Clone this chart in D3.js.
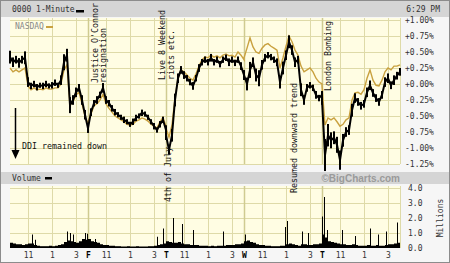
<!DOCTYPE html>
<html>
<head>
<meta charset="utf-8">
<script src="https://cdn.jsdelivr.net/npm/d3@7"></script>
<style>
  body { margin: 0; background: #ffffff; }
</style>
</head>
<body>
<div id="vis"></div>
<script>
//frame
const FRAME_WIDTH = 450;
const FRAME_HEIGHT = 263;
const PLOT = {left: 10, right: 400, top: 18, bottom: 164};
const VOL = {top: 186, bottom: 248};
const MONO = "'DejaVu Sans Mono', 'Liberation Mono', monospace";

//day = 390 trading minutes (9:30 - 16:00), points every 15 minutes
const DAY_MINUTES = 390;
const STEP = 15;

//x axis ticks (minutes since first open) and their labels
const X_TICKS = [90, 210, 330, 390, 480, 600, 720, 780, 870, 990, 1110, 1170, 1260, 1380, 1500, 1560, 1650, 1770, 1890];
const X_LABELS = ["11", "1", "3", "F", "11", "1", "3", "T", "11", "1", "3", "W", "11", "1", "3", "T", "11", "1", "3"];
const DAY_STARTS = [390, 780, 1170, 1560];

//percent change ticks
const PCT_TICKS = [1.00, 0.75, 0.50, 0.25, 0.00, -0.25, -0.50, -0.75, -1.00, -1.25];
//volume ticks (millions)
const VOL_TICKS = [0, 1, 2, 3, 4];

//DDI % change, 27 points per day (Thu, Fri, Tue, Wed, Thu)
const DDI_PCT = [
  0.42, 0.34, 0.38, 0.33, 0.38, 0.41, 0.03, -0.03, 0.00, -0.05, -0.02, -0.03, 0.00, -0.03, -0.02, 0.02, -0.02, 0.06, 0.34, 0.45, -0.33, -0.25, -0.13, -0.06, -0.25, -0.48, -0.69,
  -0.69, -0.44, -0.30, -0.25, -0.17, -0.06, -0.25, -0.30, -0.38, -0.44, -0.48, -0.52, -0.56, -0.59, -0.63, -0.59, -0.53, -0.50, -0.45, -0.47, -0.52, -0.59, -0.66, -0.72, -0.63, -0.56, -0.72,
  -0.80, -1.03, -0.80, -0.25, 0.09, 0.22, 0.14, 0.09, 0.03, -0.03, 0.09, 0.25, 0.34, 0.38, 0.34, 0.41, 0.34, 0.38, 0.31, 0.38, 0.41, 0.34, 0.38, 0.33, 0.38, 0.28, 0.14,
  0.14, 0.00, 0.22, 0.34, 0.14, 0.09, 0.30, 0.41, 0.45, 0.42, 0.38, 0.34, 0.03, 0.25, 0.45, 0.66, 0.53, 0.34, 0.38, -0.09, -0.25, -0.06, -0.02, -0.06, -0.17, -0.22, -0.17,
  -0.25, -1.11, -0.80, -0.88, -0.84, -0.95, -1.19, -0.88, -0.75, -0.72, -0.41, -0.22, -0.28, -0.34, -0.31, -0.13, -0.02, -0.14, -0.22, -0.28, -0.17, 0.03, 0.09, -0.02, 0.06, 0.13, 0.19
];

//DDI high-low spread within each 15 minutes (% points)
const DDI_RANGE = [
  0.20, 0.15, 0.12, 0.15, 0.12, 0.20, 0.15, 0.10, 0.10, 0.10, 0.08, 0.10, 0.10, 0.08, 0.10, 0.10, 0.08, 0.15, 0.25, 0.20, 0.25, 0.15, 0.15, 0.12, 0.15, 0.15, 0.10,
  0.15, 0.12, 0.10, 0.12, 0.10, 0.15, 0.12, 0.10, 0.10, 0.10, 0.08, 0.08, 0.10, 0.08, 0.08, 0.10, 0.10, 0.08, 0.10, 0.08, 0.08, 0.08, 0.10, 0.08, 0.10, 0.10, 0.15,
  0.15, 0.15, 0.20, 0.20, 0.15, 0.12, 0.12, 0.10, 0.10, 0.12, 0.10, 0.12, 0.10, 0.10, 0.10, 0.12, 0.10, 0.10, 0.10, 0.10, 0.10, 0.12, 0.10, 0.10, 0.10, 0.12, 0.15,
  0.15, 0.20, 0.25, 0.15, 0.20, 0.25, 0.15, 0.12, 0.10, 0.10, 0.10, 0.12, 0.20, 0.20, 0.15, 0.20, 0.15, 0.15, 0.12, 0.20, 0.15, 0.12, 0.10, 0.10, 0.12, 0.10, 0.12,
  0.15, 0.50, 0.35, 0.25, 0.20, 0.25, 0.30, 0.20, 0.15, 0.15, 0.20, 0.15, 0.12, 0.12, 0.12, 0.15, 0.15, 0.12, 0.12, 0.12, 0.12, 0.15, 0.15, 0.12, 0.15, 0.12, 0.12
];

//NASDAQ % change, same grid
const NASDAQ_PCT = [
  0.25, 0.19, 0.22, 0.19, 0.22, 0.25, -0.03, -0.09, -0.06, -0.09, -0.08, -0.09, -0.06, -0.08, -0.08, -0.06, -0.06, 0.00, 0.22, 0.30, -0.33, -0.28, -0.17, -0.13, -0.31, -0.50, -0.64,
  -0.59, -0.47, -0.34, -0.31, -0.25, -0.16, -0.31, -0.38, -0.44, -0.50, -0.53, -0.56, -0.59, -0.63, -0.64, -0.63, -0.58, -0.56, -0.53, -0.55, -0.58, -0.63, -0.66, -0.69, -0.59, -0.52, -0.66,
  -0.69, -0.83, -0.64, -0.22, 0.09, 0.22, 0.19, 0.14, 0.09, 0.06, 0.16, 0.28, 0.38, 0.42, 0.41, 0.45, 0.42, 0.44, 0.41, 0.45, 0.47, 0.44, 0.45, 0.42, 0.50, 0.45, 0.38,
  0.41, 0.56, 0.72, 0.58, 0.50, 0.48, 0.56, 0.61, 0.63, 0.59, 0.56, 0.53, 0.25, 0.41, 0.59, 0.75, 0.66, 0.53, 0.45, 0.28, 0.19, 0.22, 0.25, 0.19, 0.09, 0.03, 0.00,
  -0.03, -0.64, -0.53, -0.56, -0.53, -0.59, -0.66, -0.63, -0.56, -0.53, -0.25, -0.14, -0.13, -0.16, -0.09, 0.09, 0.22, 0.06, -0.02, -0.03, 0.06, 0.19, 0.25, 0.22, 0.28, 0.28, 0.30
];

//volume (millions), 26 x 15-minute bars per day
const VOLUME = [
  0.35, 0.3, 0.25, 0.25, 0.2, 0.25, 0.3, 0.3, 0.2, 0.15, 0.12, 0.12, 0.12, 0.15, 0.12, 0.15, 0.2, 0.25, 0.4, 0.5, 0.45, 0.4, 0.35, 0.45, 0.6, 0.55,
  0.6, 0.45, 0.4, 0.35, 0.25, 0.2, 0.2, 0.15, 0.15, 0.12, 0.12, 0.1, 0.1, 0.12, 0.1, 0.1, 0.12, 0.1, 0.1, 0.1, 0.12, 0.12, 0.15, 0.2, 0.25, 0.3,
  0.45, 0.4, 0.35, 0.35, 0.4, 0.3, 0.25, 0.25, 0.2, 0.2, 0.2, 0.15, 0.15, 0.15, 0.12, 0.15, 0.12, 0.15, 0.15, 0.15, 0.2, 0.2, 0.2, 0.25, 0.25, 0.3,
  0.45, 0.5, 0.4, 0.35, 0.25, 0.2, 0.2, 0.15, 0.15, 0.12, 0.12, 0.12, 0.15, 0.15, 0.25, 0.3, 0.25, 0.2, 0.15, 0.25, 0.25, 0.2, 0.2, 0.25, 0.25, 0.3,
  0.9, 0.7, 0.45, 0.4, 0.35, 0.3, 0.25, 0.25, 0.2, 0.2, 0.25, 0.2, 0.15, 0.15, 0.15, 0.2, 0.15, 0.15, 0.2, 0.15, 0.15, 0.2, 0.25, 0.25, 0.3, 0.35
];

//single-minute volume spikes (minutes since first open, millions)
const SPIKE_TIMES = [110, 125, 285, 300, 315, 375, 385, 425, 735, 765, 815, 860, 915, 1065, 1175, 1375, 1385, 1460, 1490, 1560, 1570, 1585, 1660, 1725, 1800, 1840, 1880, 1935];
const SPIKE_VOLS = [0.9, 0.55, 1.1, 1.0, 0.9, 1.0, 0.95, 0.6, 0.75, 1.3, 2.0, 1.6, 1.2, 1.1, 0.9, 1.4, 1.8, 1.1, 1.0, 2.1, 3.4, 1.2, 1.2, 0.8, 1.3, 0.9, 1.1, 1.7];

//notes written up the chart: text, minute, bottom of text (px)
const NOTE_TEXTS = ["Justice O'Connor", "resignation", "Live 8 Weekend", "riots etc.", "4th of July", "Resumed downward trend", "London Bombing"];
const NOTE_TIMES = [440, 482, 775, 820, 805, 1435, 1605];
const NOTE_BOTTOMS = [83, 83, 80, 80, 202, 193, 91];

function build_chart(){
  const FRAME = d3.select("#vis")
    .append("svg")
    .attr("width", FRAME_WIDTH)
    .attr("height", FRAME_HEIGHT);

  //scales
  const X_SCALE = d3.scaleLinear()
                    .domain([0, DAY_MINUTES * 5])
                    .range([PLOT.left, PLOT.right]);
  const Y_SCALE = d3.scaleLinear()
                    .domain([-1.25, 1.00])
                    .range([PLOT.bottom, 20]);
  const V_SCALE = d3.scaleLinear()
                    .domain([0, 4])
                    .range([VOL.bottom, 188]);

  //background, frame and bars
  FRAME.append("rect")
    .attr("x", 0.5).attr("y", 0.5)
    .attr("width", FRAME_WIDTH - 1).attr("height", FRAME_HEIGHT - 1)
    .attr("fill", "#f6f6f6").attr("stroke", "#8c8c8c");
  FRAME.append("rect")
    .attr("x", 1).attr("y", 1).attr("width", FRAME_WIDTH - 2).attr("height", 16)
    .attr("fill", "#d5d5d5");
  FRAME.append("rect")
    .attr("x", 1).attr("y", 172).attr("width", FRAME_WIDTH - 2).attr("height", 12)
    .attr("fill", "#d5d5d5");

  //plot areas
  [[PLOT.top, PLOT.bottom], [VOL.top, VOL.bottom]].forEach((p) => {
    FRAME.append("rect")
      .attr("x", PLOT.left).attr("y", p[0])
      .attr("width", PLOT.right - PLOT.left).attr("height", p[1] - p[0])
      .attr("fill", "#fffde3");
  });

  //horizontal grid
  FRAME.append("g").selectAll("line")
    .data(PCT_TICKS)
    .enter().append("line")
    .attr("x1", PLOT.left).attr("x2", PLOT.right)
    .attr("y1", (d) => Math.round(Y_SCALE(d)) + 0.5)
    .attr("y2", (d) => Math.round(Y_SCALE(d)) + 0.5)
    .attr("stroke", "#dedaa8");
  FRAME.append("g").selectAll("line")
    .data(VOL_TICKS.slice(1))
    .enter().append("line")
    .attr("x1", PLOT.left).attr("x2", PLOT.right)
    .attr("y1", (d) => Math.round(V_SCALE(d)) + 0.5)
    .attr("y2", (d) => Math.round(V_SCALE(d)) + 0.5)
    .attr("stroke", "#dedaa8");

  //vertical grid, day lines a bit stronger
  [[PLOT.top, PLOT.bottom], [VOL.top, VOL.bottom]].forEach((p) => {
    FRAME.append("g").selectAll("line")
      .data(X_TICKS.concat([DAY_MINUTES * 5]))
      .enter().append("line")
      .attr("x1", (d) => Math.round(X_SCALE(d)) + 0.5)
      .attr("x2", (d) => Math.round(X_SCALE(d)) + 0.5)
      .attr("y1", p[0]).attr("y2", p[1])
      .attr("stroke", (d) => DAY_STARTS.includes(d) ? "#cfcb90" : "#dedaa8")
      .attr("stroke-width", (d) => DAY_STARTS.includes(d) ? 1.5 : 1);
  });

  //series points
  const toPoint = (v, i) => ({t: Math.floor(i / 27) * DAY_MINUTES + (i % 27) * STEP, v: v, r: DDI_RANGE[i]});
  const LINE = d3.line()
                 .x((d) => X_SCALE(d.t))
                 .y((d) => Y_SCALE(d.v));

  FRAME.append("path")
    .datum(NASDAQ_PCT.map(toPoint))
    .attr("d", LINE)
    .attr("fill", "none")
    .attr("stroke", "#c9a13f")
    .attr("stroke-width", 1.4);

  const DDI_POINTS = DDI_PCT.map(toPoint);

  //high-low ticks
  FRAME.append("g").selectAll("rect")
    .data(DDI_POINTS)
    .enter().append("rect")
    .attr("x", (d) => X_SCALE(d.t) - 1)
    .attr("width", 2)
    .attr("y", (d) => Y_SCALE(d.v + d.r / 2))
    .attr("height", (d) => Y_SCALE(d.v - d.r / 2) - Y_SCALE(d.v + d.r / 2))
    .attr("fill", "#000");

  FRAME.append("path")
    .datum(DDI_POINTS)
    .attr("d", LINE)
    .attr("fill", "none")
    .attr("stroke", "#000")
    .attr("stroke-width", 2)
    .attr("stroke-linejoin", "miter");

  //volume bars
  FRAME.append("g").selectAll("rect")
    .data(VOLUME.map((v, i) => ({t: Math.floor(i / 26) * DAY_MINUTES + (i % 26) * STEP, v: v})))
    .enter().append("rect")
    .attr("x", (d) => X_SCALE(d.t))
    .attr("width", (d) => X_SCALE(d.t + STEP) - X_SCALE(d.t))
    .attr("y", (d) => V_SCALE(d.v))
    .attr("height", (d) => V_SCALE(0) - V_SCALE(d.v))
    .attr("fill", "#000");

  FRAME.append("g").selectAll("line")
    .data(SPIKE_TIMES)
    .enter().append("line")
    .attr("x1", (d) => Math.round(X_SCALE(d)) + 0.5)
    .attr("x2", (d) => Math.round(X_SCALE(d)) + 0.5)
    .attr("y1", V_SCALE(0))
    .attr("y2", (d, i) => V_SCALE(SPIKE_VOLS[i]))
    .attr("stroke", "#000");

  //right axes
  const pctAxis = FRAME.append("g")
    .attr("transform", "translate(" + PLOT.right + ",0)")
    .call(d3.axisRight(Y_SCALE).tickValues(PCT_TICKS).tickSize(0).tickPadding(5)
      .tickFormat((d) => (d >= 0 ? "+" : "") + d.toFixed(2) + "%"));
  const volAxis = FRAME.append("g")
    .attr("transform", "translate(" + PLOT.right + ",0)")
    .call(d3.axisRight(V_SCALE).tickValues(VOL_TICKS).tickSize(0).tickPadding(8));
  const timeAxis = FRAME.append("g")
    .attr("transform", "translate(0," + VOL.bottom + ")")
    .call(d3.axisBottom(X_SCALE).tickValues(X_TICKS).tickSize(0).tickPadding(4)
      .tickFormat((d, i) => X_LABELS[i]));

  [pctAxis, volAxis, timeAxis].forEach((a) => {
    a.select(".domain").remove();
    a.attr("font-family", MONO).attr("font-size", 8);
    a.selectAll("text").attr("fill", "#333");
  });
  timeAxis.selectAll("text")
    .attr("font-weight", (d) => DAY_STARTS.includes(d) ? "bold" : "normal")
    .attr("fill", (d) => DAY_STARTS.includes(d) ? "#000" : "#333");

  //header texts
  FRAME.append("text")
    .attr("x", 12).attr("y", 12)
    .attr("font-family", MONO).attr("font-size", 8).attr("fill", "#333")
    .text("0000 1-Minute");
  FRAME.append("rect")
    .attr("x", 76).attr("y", 10).attr("width", 8).attr("height", 2.5).attr("fill", "#000");
  FRAME.append("text")
    .attr("x", 440).attr("y", 12).attr("text-anchor", "end")
    .attr("font-family", MONO).attr("font-size", 8).attr("fill", "#333")
    .text("6:29 PM");

  FRAME.append("text")
    .attr("x", 15).attr("y", 29)
    .attr("font-family", MONO).attr("font-size", 8).attr("fill", "#888")
    .text("NASDAQ");
  FRAME.append("rect")
    .attr("x", 46).attr("y", 26).attr("width", 7).attr("height", 2).attr("fill", "#c9a13f");

  FRAME.append("text")
    .attr("x", 12).attr("y", 181)
    .attr("font-family", MONO).attr("font-size", 8).attr("fill", "#333")
    .text("Volume");
  FRAME.append("rect")
    .attr("x", 45).attr("y", 177).attr("width", 7).attr("height", 2.5).attr("fill", "#000");
  FRAME.append("text")
    .attr("x", 400).attr("y", 182).attr("text-anchor", "end")
    .attr("font-family", "'Liberation Sans', Arial, sans-serif")
    .attr("font-weight", "bold").attr("font-size", 10).attr("fill", "#9a9a9a")
    .text("\u00a9BigCharts.com");

  FRAME.append("text")
    .attr("transform", "translate(443,218) rotate(-90)")
    .attr("text-anchor", "middle")
    .attr("font-family", MONO).attr("font-size", 8).attr("fill", "#333")
    .text("Millions");

  //notes
  FRAME.append("g").selectAll("text")
    .data(NOTE_TEXTS)
    .enter().append("text")
    .attr("transform", (d, i) => "translate(" + X_SCALE(NOTE_TIMES[i]) + "," + NOTE_BOTTOMS[i] + ") rotate(-90)")
    .attr("font-family", MONO).attr("font-size", 8.3).attr("fill", "#111")
    .text((d) => d);

  //DDI arrow
  FRAME.append("line")
    .attr("x1", 15.5).attr("x2", 15.5).attr("y1", 108).attr("y2", 151)
    .attr("stroke", "#000").attr("stroke-width", 1.5);
  FRAME.append("path")
    .attr("d", "M11.5,150 L19.5,150 L15.5,159 Z")
    .attr("fill", "#000");
  FRAME.append("text")
    .attr("x", 22).attr("y", 149)
    .attr("font-family", MONO).attr("font-size", 8.3).attr("fill", "#111")
    .text("DDI remained down");
}

build_chart()
</script>
</body>
</html>
